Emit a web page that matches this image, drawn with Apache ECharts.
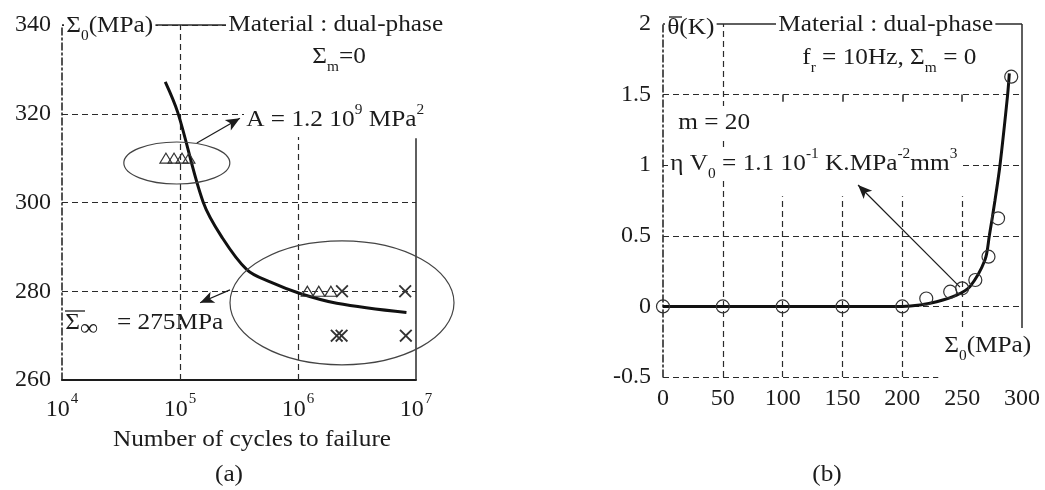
<!DOCTYPE html>
<html>
<head>
<meta charset="utf-8">
<script src="https://cdn.jsdelivr.net/npm/echarts@6/dist/echarts.min.js"></script>
<style>
html, body { margin: 0; padding: 0; background: #fff; }
#chart { width: 1045px; height: 490px; }
</style>
</head>
<body>
<div id="chart"></div>
<script>
const FONT = 'Liberation Serif';
const INK = '#1c1c1c';
const GRID_INK = '#2a2a2a';
const MARK_INK = '#333';

// ---- (a) Wöhler curve: stress amplitude vs number of cycles to failure
const cycleTicks = [1e4, 1e5, 1e6, 1e7];
const stressTicks = [260, 280, 300, 320, 340];
const curveCycles = [7.5e4, 9.6e4, 1.57e5, 2.25e5, 3.7e5, 5.8e5, 1.04e6, 2.13e6, 8.3e6];
const curveStress = [327.2, 320.2, 300.1, 292.3, 284.8, 282.1, 279.5, 277.3, 275.2];
const triCycles = [7.6e4, 8.9e4, 1.04e5, 1.19e5, 1.2e6, 1.5e6, 1.9e6];
const triStress = [310, 310, 310, 310, 280, 280, 280];
const crossCycles = [2.36e6, 8.1e6, 2.13e6, 2.34e6, 8.2e6];
const crossStress = [280, 280, 270, 270, 270];

// ---- (b) mean temperature rise vs stress amplitude
const ampTicks = [0, 50, 100, 150, 200, 250, 300];
const riseTicks = [-0.5, 0, 0.5, 1, 1.5, 2];
const testAmp = [0, 50, 100, 150, 200, 220, 240, 250, 261, 272, 280, 291];
const testRise = [0, 0, 0, 0, 0, 0.056, 0.104, 0.128, 0.187, 0.352, 0.624, 1.627];
const modelAmp = [0, 200, 214.8, 228.7, 245.4, 256.5, 269.1, 272.7, 277.4, 281.6, 288, 289.4];
const modelRise = [0, 0, 0.01, 0.033, 0.08, 0.14, 0.33, 0.5, 0.75, 1.0, 1.5, 1.65];

const zip = (a, b) => a.map((v, i) => [v, b[i]]);

const baseLabel = { fontFamily: FONT, fontSize: 24, color: INK };
const dashed = { color: GRID_INK, width: 1.2, type: [6, 4] };
const solid = { color: GRID_INK, width: 1.5, type: 'solid' };
const seg = (a, b, style) => [{ coord: a, lineStyle: style }, { coord: b }];

const crossPath = 'path://M0,1L1,0L5,4L9,0L10,1L6,5L10,9L9,10L5,6L1,10L0,9L4,5Z';
const hollow = { color: 'transparent', borderColor: MARK_INK, borderWidth: 1.2, opacity: 1 };

const option = {
  backgroundColor: '#fff',
  animation: false,
  grid: [
    { left: 62, top: 25, width: 354, height: 355 },
    { left: 663, top: 24, width: 359, height: 353 }
  ],
  xAxis: [
    {
      type: 'log', logBase: 10, gridIndex: 0,
      min: cycleTicks[0], max: cycleTicks[cycleTicks.length - 1],
      axisLine: { lineStyle: { color: INK, width: 2 } },
      axisTick: { show: false },
      splitLine: { show: false },
      axisLabel: {
        margin: 12,
        formatter: v => '{b|10}{s|' + Math.round(Math.log10(v)) + '}',
        rich: {
          b: { fontFamily: FONT, fontSize: 24, color: INK, lineHeight: 30, verticalAlign: 'bottom' },
          s: { fontFamily: FONT, fontSize: 15, color: INK, lineHeight: 30, verticalAlign: 'top', padding: [0, 0, 0, 1] }
        }
      }
    },
    {
      type: 'value', gridIndex: 1,
      min: ampTicks[0], max: ampTicks[ampTicks.length - 1], interval: ampTicks[1] - ampTicks[0],
      axisLine: { show: false },
      axisTick: { show: false },
      splitLine: { show: false },
      axisLabel: Object.assign({ margin: 10 }, baseLabel)
    }
  ],
  yAxis: [
    {
      type: 'value', gridIndex: 0,
      min: stressTicks[0], max: stressTicks[stressTicks.length - 1], interval: stressTicks[1] - stressTicks[0],
      axisLine: { show: true, lineStyle: { color: INK, width: 1.5, type: [7, 3, 2, 3] } },
      axisTick: { show: false },
      splitLine: { show: true, lineStyle: dashed },
      axisLabel: Object.assign({ margin: 11 }, baseLabel)
    },
    {
      type: 'value', gridIndex: 1,
      min: riseTicks[0], max: riseTicks[riseTicks.length - 1], interval: riseTicks[1] - riseTicks[0],
      axisLine: { show: true, lineStyle: { color: INK, width: 1.5, type: [7, 3, 2, 3] } },
      axisTick: { show: false },
      splitLine: { show: false },
      axisLabel: Object.assign({ margin: 12 }, baseLabel)
    }
  ],
  series: [
    {
      name: 'fit-a', type: 'line', xAxisIndex: 0, yAxisIndex: 0,
      data: zip(curveCycles, curveStress),
      smooth: 0.35, showSymbol: false, silent: true, z: 5,
      lineStyle: { color: '#111', width: 3 },
      markLine: {
        silent: true, symbol: 'none', label: { show: false }, animation: false,
        data: [
          seg([1e4, 340], [1e7, 340], solid),
          seg([1e5, 260], [1e5, 340], dashed),
          seg([1e6, 260], [1e6, 315], dashed),
          seg([1e7, 260], [1e7, 314.5], solid)
        ]
      }
    },
    {
      name: 'tri', type: 'scatter', xAxisIndex: 0, yAxisIndex: 0,
      data: zip(triCycles, triStress),
      symbol: 'triangle', symbolSize: [12, 10], z: 6,
      itemStyle: hollow,
      markLine: {
        silent: true, symbol: ['none', 'arrow'], symbolSize: [9, 14], label: { show: false },
        lineStyle: { color: INK, width: 1.2, type: 'solid' },
        data: [
          [{ coord: [1.39e5, 313.4] }, { coord: [3.22e5, 319.0] }],
          [{ coord: [2.65e5, 280.3] }, { coord: [1.48e5, 277.4] }]
        ]
      }
    },
    {
      name: 'cross', type: 'scatter', xAxisIndex: 0, yAxisIndex: 0,
      data: zip(crossCycles, crossStress),
      symbol: crossPath, symbolSize: 13, z: 6,
      itemStyle: { color: MARK_INK, opacity: 1 }
    },
    {
      name: 'fit-b', type: 'line', xAxisIndex: 1, yAxisIndex: 1,
      data: zip(modelAmp, modelRise),
      smooth: 0.3, showSymbol: false, silent: true, z: 5,
      lineStyle: { color: '#111', width: 3 },
      markLine: {
        silent: true, symbol: 'none', label: { show: false }, animation: false,
        data: [
          seg([0, 2], [300, 2], solid),
          seg([0, 1.5], [300, 1.5], dashed),
          seg([0, 1], [300, 1], dashed),
          seg([0, 0.5], [300, 0.5], dashed),
          seg([0, 0], [300, 0], dashed),
          seg([0, -0.5], [230, -0.5], dashed),
          seg([300, -0.153], [300, 2], solid),
          seg([50, -0.5], [50, 2], dashed),
          seg([100, -0.5], [100, 0.78], dashed),
          seg([150, -0.5], [150, 0.78], dashed),
          seg([200, -0.5], [200, 0.78], dashed),
          seg([250, -0.217], [250, 0.78], dashed),
          seg([100, 1.5], [100, 1.45], solid),
          seg([150, 1.5], [150, 1.45], solid),
          seg([200, 1.5], [200, 1.45], solid),
          seg([250, 1.5], [250, 1.45], solid)
        ]
      }
    },
    {
      name: 'tests-b', type: 'scatter', xAxisIndex: 1, yAxisIndex: 1,
      data: zip(testAmp, testRise),
      symbol: 'circle', symbolSize: 13, z: 6,
      itemStyle: hollow,
      markLine: {
        silent: true, symbol: ['none', 'arrow'], symbolSize: [9, 14], label: { show: false },
        lineStyle: { color: INK, width: 1.2, type: 'solid' },
        data: [
          [{ coord: [248.2, 0.137] }, { coord: [163, 0.86] }]
        ]
      }
    }
  ]
};

const chart = echarts.init(document.getElementById('chart'), null, { renderer: 'canvas' });
chart.setOption(option);

// annotation text styles
const rich = {
  t: { fontFamily: FONT, fontSize: 23, fill: INK, lineHeight: 34, verticalAlign: 'middle' },
  sub: { fontFamily: FONT, fontSize: 14, fill: INK, lineHeight: 14, verticalAlign: 'bottom' },
  sup: { fontFamily: FONT, fontSize: 14, fill: INK, lineHeight: 14, verticalAlign: 'top' },
  inf: { fontFamily: FONT, fontSize: 23, fill: INK, lineHeight: 20, verticalAlign: 'bottom' }
};
const note = (x, y, text, opts) => ({
  type: 'text', x, y, z: 50, silent: true, scaleX: 1.1,
  style: Object.assign({
    text, rich, fill: INK, font: '23px "' + FONT + '"',
    align: 'left', verticalAlign: 'middle',
    backgroundColor: '#fff', padding: [0, 2]
  }, opts || {})
});
const bar = (x1, y1, x2, y2) => ({
  type: 'line', z: 60, silent: true,
  shape: { x1, y1, x2, y2 }, style: { stroke: INK, lineWidth: 1.3 }
});

// ellipses grouping the test points, centred in data coordinates
const groupA = chart.convertToPixel({ gridIndex: 0 }, [9.4e4, 308.9]);
const groupB = chart.convertToPixel({ gridIndex: 0 }, [2.36e6, 277.4]);
const ring = (c, rx, ry) => ({
  type: 'ellipse', z: 40, silent: true,
  shape: { cx: c[0], cy: c[1], rx, ry },
  style: { fill: 'none', stroke: '#444', lineWidth: 1.2 }
});

chart.setOption({
  graphic: [
    ring(groupA, 53, 21),
    ring(groupB, 112, 62),

    // panel (a)
    note(64, 26, '{t|Σ}{sub|0}{t|(MPa)}'),
    note(226, 25, '{t|Material : dual-phase}'),
    note(310, 57, '{t|Σ}{sub|m}{t|=0}', { backgroundColor: 'transparent' }),
    note(244, 120, '{t|A = 1.2 10}{sup|9}{t| MPa}{sup|2}'),
    note(63, 323, '{t|Σ}{inf|∞}{t|   = 275MPa}', { backgroundColor: 'transparent' }),
    bar(65, 311, 85, 311),
    note(252, 440, '{t|Number of cycles to failure}', { align: 'center', backgroundColor: 'transparent' }),
    note(229, 475, '{t|(a)}', { align: 'center', backgroundColor: 'transparent' }),

    // panel (b)
    note(665, 28, '{t|θ(K)}'),
    bar(669, 17, 682, 17),
    note(776, 25, '{t|Material : dual-phase}'),
    note(800, 58, '{t|f}{sub|r}{t| = 10Hz, Σ}{sub|m}{t| = 0}', { backgroundColor: 'transparent' }),
    note(676, 123, '{t|m = 20}'),
    note(668, 164, '{t|η V}{sub|0}{t| = 1.1 10}{sup|-1}{t| K.MPa}{sup|-2}{t|mm}{sup|3}'),
    note(942, 346, '{t|Σ}{sub|0}{t|(MPa)}'),
    note(827, 475, '{t|(b)}', { align: 'center', backgroundColor: 'transparent' })
  ]
});
</script>
</body>
</html>
